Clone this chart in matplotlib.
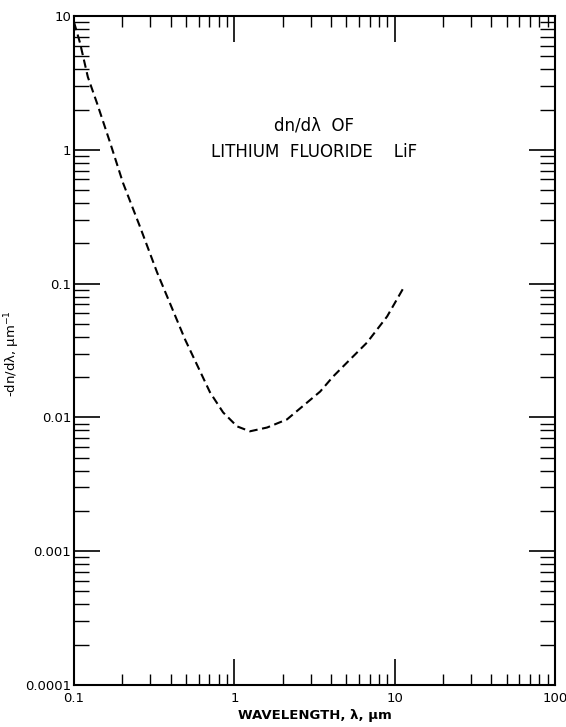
import numpy as np
import matplotlib.pyplot as plt
from matplotlib.ticker import LogLocator, NullFormatter, FixedLocator, FixedFormatter

# values
wavelength = [0.1, 0.109, 0.122, 0.139, 0.168, 0.202, 0.258, 0.330, 0.493, 0.705,
              0.851, 1.04, 1.25, 1.60, 2.13, 2.84, 3.43, 4.13, 5.27, 6.73, 8.97, 11.3]
dn_dlambda = [9.0, 6.3, 3.5, 2.24, 1.13, 0.567, 0.266, 0.121, 0.0382, 0.0154,
              0.0109, 0.00857, 0.00787, 0.0084, 0.00966, 0.0129, 0.0156, 0.0202, 0.0271, 0.0363, 0.0568, 0.092]

xticks = [0.1, 1, 10, 100]
xlabels = ["0.1", "1", "10", "100"]
yticks = [0.0001, 0.001, 0.01, 0.1, 1, 10]
ylabels = ["0.0001", "0.001", "0.01", "0.1", "1", "10"]

plt.rcParams["font.family"] = ["DejaVu Sans"]

fig = plt.figure(figsize=(5.66, 7.27), dpi=100)
ax = fig.add_axes([74/566, 1 - 685/727, (555-74)/566, (685-16)/727])

ax.plot(wavelength, dn_dlambda, color="black", lw=1.5, ls=(0, (4, 2.2)))

ax.set_xscale("log")
ax.set_yscale("log")
ax.set_xlim(0.1, 100)
ax.set_ylim(0.0001, 10)

ax.xaxis.set_major_locator(FixedLocator(xticks))
ax.xaxis.set_major_formatter(FixedFormatter(xlabels))
ax.yaxis.set_major_locator(FixedLocator(yticks))
ax.yaxis.set_major_formatter(FixedFormatter(ylabels))
ax.xaxis.set_minor_locator(LogLocator(base=10, subs=np.arange(2, 10)))
ax.yaxis.set_minor_locator(LogLocator(base=10, subs=np.arange(2, 10)))
ax.xaxis.set_minor_formatter(NullFormatter())
ax.yaxis.set_minor_formatter(NullFormatter())

ax.tick_params(which="major", direction="in", length=19, width=1.2,
               top=True, right=True, labelsize=9.5)
ax.tick_params(axis="x", which="major", pad=5)
ax.tick_params(axis="y", which="major", pad=2)
ax.tick_params(axis="x", which="minor", direction="in", length=8, width=1.0,
               top=True)
ax.tick_params(axis="y", which="minor", direction="in", length=11, width=1.0,
               right=True)

for s in ax.spines.values():
    s.set_linewidth(1.5)

ax.set_xlabel("WAVELENGTH, λ, μm", fontsize=9.5, fontweight="bold", labelpad=3)
ax.set_ylabel("-dn/dλ, μm$^{-1}$", fontsize=9.5)
ax.yaxis.set_label_coords(-0.108, 0.495)

ax.text(0.50, 0.836, "dn/dλ  OF", transform=ax.transAxes, ha="center", va="center", fontsize=12)
ax.text(0.50, 0.797, "LITHIUM  FLUORIDE    LiF", transform=ax.transAxes, ha="center", va="center", fontsize=12)

fig.savefig("out.png", dpi=100)
